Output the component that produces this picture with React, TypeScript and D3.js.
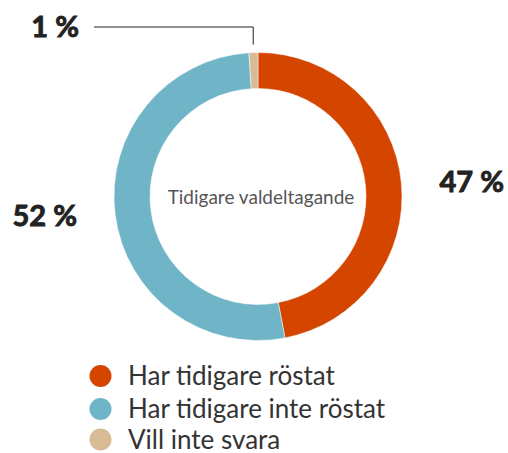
import React from "react";
import * as d3 from "d3";

const categories = ["Har tidigare röstat", "Har tidigare inte röstat", "Vill inte svara"];
const values = [47, 52, 1];
const labels = ["47 %", "52 %", "1 %"];
const colors = ["#d44500", "#70b4c7", "#d8bb94"];
const centerTitle = "Tidigare valdeltagande";

const W = 508;
const H = 453;
const cx = 258;
const cy = 196.5;
const outerR = 144;
const innerR = 108;

export default function App() {
  const pie = d3.pie<number>().sort(null).value((d) => d);
  const arcs = pie(values);
  const arcGen = d3.arc<d3.PieArcDatum<number>>().innerRadius(innerR).outerRadius(outerR);

  const small = arcs[2];
  const midA = (small.startAngle + small.endAngle) / 2;
  const lx = cx + Math.sin(midA) * (outerR + 8);
  const ly = cy - Math.cos(midA) * (outerR + 8);
  const lineY = 27;

  const font = "Lato, sans-serif";
  const boldProps = {
    fontFamily: font,
    fontWeight: 700,
    fontSize: 29,
    fill: "#222",
    stroke: "#222",
    strokeWidth: 0.9,
    textAnchor: "end" as const,
  };

  return (
    <svg width={W} height={H} style={{ position: "absolute", left: 0, top: 0 }}>
      <g transform={`translate(${cx},${cy})`}>
        {arcs.map((a, i) => (
          <path key={i} d={arcGen(a) || ""} fill={colors[i]} stroke="#fff" strokeWidth={0.5} />
        ))}
      </g>
      <text x={cx + 3} y={204} textAnchor="middle" fontFamily={font} fontSize={19} fill="#555">
        {centerTitle}
      </text>
      <polyline
        points={`${94},${lineY} ${lx},${lineY} ${lx},${ly}`}
        fill="none"
        stroke="#222"
        strokeWidth={1}
      />
      <text x={79} y={37} {...boldProps}>
        {labels[2]}
      </text>
      <text x={504} y={192} {...boldProps}>
        {labels[0]}
      </text>
      <text x={77} y={226} {...boldProps}>
        {labels[1]}
      </text>
      {categories.map((c, i) => {
        const rowY = [376, 409, 439.5][i];
        return (
          <g key={c}>
            <circle cx={100.5} cy={rowY} r={11} fill={colors[i]} />
            <text x={128} y={rowY + 9} fontFamily={font} fontSize={26} fill="#333">
              {c}
            </text>
          </g>
        );
      })}
    </svg>
  );
}
